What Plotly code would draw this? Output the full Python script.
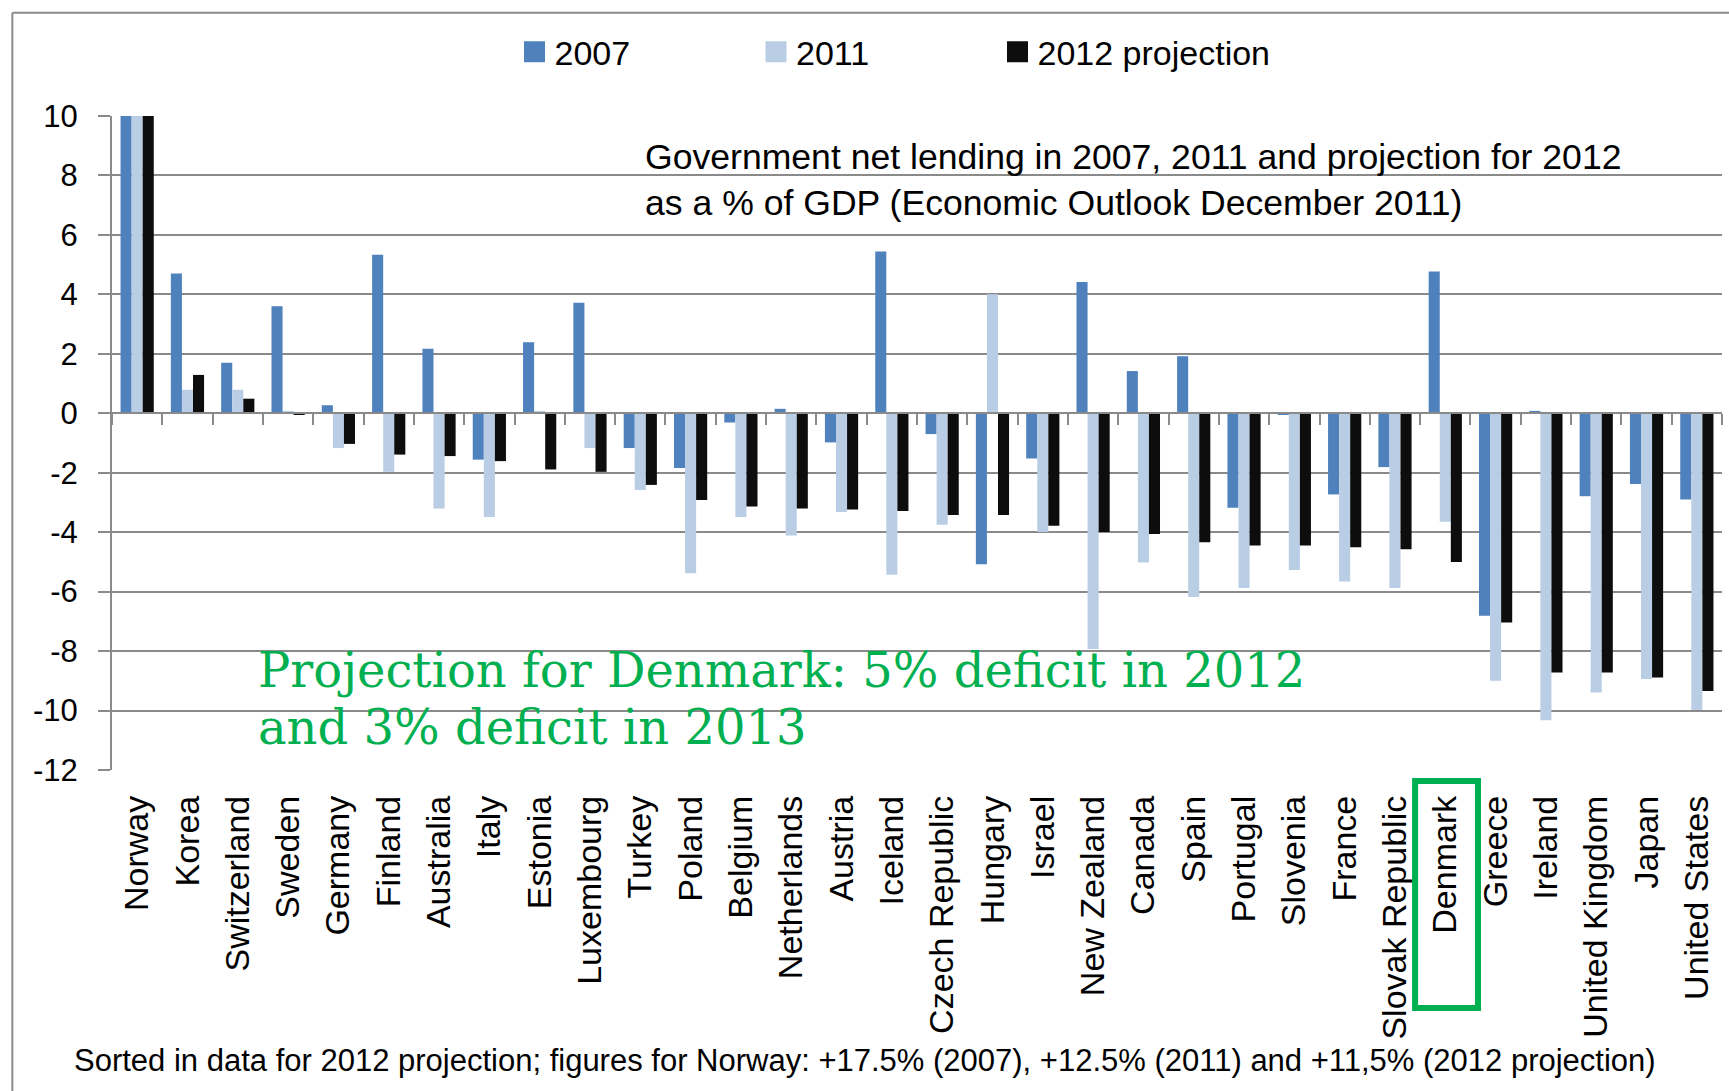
import plotly.graph_objects as go

# Countries, sorted by the 2012 projection
countries = ["Norway", "Korea", "Switzerland", "Sweden", "Germany", "Finland",
             "Australia", "Italy", "Estonia", "Luxembourg", "Turkey", "Poland",
             "Belgium", "Netherlands", "Austria", "Iceland", "Czech Republic",
             "Hungary", "Israel", "New Zealand", "Canada", "Spain", "Portugal",
             "Slovenia", "France", "Slovak Republic", "Denmark", "Greece",
             "Ireland", "United Kingdom", "Japan", "United States"]

# Government net lending, % of GDP
net_2007 = [17.5, 4.7, 1.7, 3.6, 0.27, 5.33, 2.17, -1.56, 2.39, 3.72, -1.17,
            -1.84, -0.31, 0.15, -0.98, 5.44, -0.70, -5.08, -1.52, 4.42, 1.42,
            1.92, -3.18, -0.03, -2.73, -1.81, 4.77, -6.81, 0.08, -2.79, -2.38,
            -2.90]
net_2011 = [12.5, 0.79, 0.79, 0.08, -1.17, -1.97, -3.2, -3.49, 0.08, -1.17,
            -2.58, -5.38, -3.49, -4.11, -3.32, -5.43, -3.75, 4.0, -3.99, -7.93,
            -5.02, -6.18, -5.88, -5.27, -5.66, -5.88, -3.65, -9.0, -10.33,
            -9.39, -8.94, -9.98]
net_2012 = [11.5, 1.29, 0.49, -0.05, -1.03, -1.39, -1.44, -1.61, -1.89, -1.97,
            -2.41, -2.92, -3.14, -3.2, -3.24, -3.29, -3.42, -3.42, -3.78,
            -3.99, -4.06, -4.34, -4.45, -4.45, -4.51, -4.57, -5.0, -7.04,
            -8.72, -8.72, -8.89, -9.34]

series_names = ["2007", "2011", "2012 projection"]
series_colors = ["#4F81BD", "#B9CDE5", "#0D0D0D"]

y_tickvals = [10, 8, 6, 4, 2, 0, -2, -4, -6, -8, -10, -12]
y_ticktext = ["10", "8", "6", "4", "2", "0", "-2", "-4", "-6", "-8", "-10", "-12"]

SANS = "Liberation Sans, Arial, sans-serif"
SERIF = "DejaVu Serif, Georgia, serif"
GRID = "#8A8A8A"
GREEN = "#00B050"

fig = go.Figure()
legend_ids = ["legend", "legend2", "legend3"]
for name, vals, col, lg in zip(series_names, [net_2007, net_2011, net_2012],
                               series_colors, legend_ids):
    fig.add_trace(go.Bar(x=countries, y=vals, name=name, marker_color=col,
                         marker_line_width=0, showlegend=False))
    # square legend key for the series
    fig.add_trace(go.Scatter(x=[None], y=[None], name=name, mode="markers",
                             marker=dict(symbol="square", size=24, color=col,
                                         line=dict(color=col, width=5)),
                             legend=lg, hoverinfo="skip"))

# invisible trace so the zero-line axis carries the category ticks
fig.add_trace(go.Scatter(x=countries, y=[0] * len(countries), xaxis="x2",
                         mode="none", showlegend=False, hoverinfo="skip"))

ymin, ymax = y_tickvals[-1], y_tickvals[0]

legend_style = dict(orientation="h", xanchor="left", y=1.0976,
                    yanchor="middle", font=dict(size=34, family=SANS),
                    itemsizing="trace", bgcolor="rgba(0,0,0,0)")

fig.update_layout(
    width=1729, height=1091, autosize=False,
    margin=dict(l=112, r=7, t=116, b=321),
    paper_bgcolor="white", plot_bgcolor="white",
    barmode="group", bargap=0.34, bargroupgap=0,
    font=dict(family=SANS, color="black"),
    showlegend=True,
    legend=dict(x=0.250, **legend_style),
    legend2=dict(x=0.400, **legend_style),
    legend3=dict(x=0.550, **legend_style),
    xaxis=dict(type="category", categoryorder="array", categoryarray=countries,
               range=[-0.5, len(countries) - 0.5], tickangle=-90,
               ticks="", showgrid=False, showline=False, zeroline=False,
               tickfont=dict(size=34, family=SANS, color="black"),
               ticklabelstandoff=18),
    xaxis2=dict(type="category", categoryorder="array", categoryarray=countries,
                range=[-0.5, len(countries) - 0.5], overlaying="x",
                anchor="free", position=(0 - ymin) / (ymax - ymin),
                side="bottom", showticklabels=False, showgrid=False,
                ticks="outside", tickson="boundaries", ticklen=11,
                tickwidth=2, tickcolor=GRID, showline=True, linecolor=GRID,
                linewidth=2, zeroline=False),
    yaxis=dict(range=[ymin, ymax], tickvals=y_tickvals, ticktext=y_ticktext,
               showgrid=True, gridcolor=GRID, gridwidth=2, zeroline=False,
               showline=True, linecolor=GRID, linewidth=2,
               ticks="outside", ticklen=12, tickwidth=2, tickcolor=GRID,
               tickfont=dict(size=31, family=SANS, color="black"),
               ticklabelstandoff=14),
)

fig.add_annotation(
    text="Government net lending in 2007, 2011 and projection for 2012<br>"
         "as a % of GDP (Economic Outlook December 2011)",
    xref="paper", yref="paper", x=(643 - 112) / 1610, y=0.9026,
    xanchor="left", yanchor="middle", align="left", showarrow=False,
    font=dict(size=35.6, family=SANS, color="black"))

# green note about Denmark, one annotation per line
for txt, ypos in [("Projection for Denmark: 5% deficit in 2012", 0.1527),
                  ("and 3% deficit in 2013", 0.0651)]:
    fig.add_annotation(
        text=txt, xref="paper", yref="paper", x=0.0895, y=ypos,
        xanchor="left", yanchor="middle", align="left", showarrow=False,
        font=dict(size=48, family=SERIF, color=GREEN))

fig.add_annotation(
    text="Sorted in data for 2012 projection; figures for Norway: +17.5% (2007), "
         "+12.5% (2011) and +11,5% (2012 projection)",
    xref="paper", yref="paper", x=-0.025, y=-0.444,
    xanchor="left", yanchor="middle", align="left", showarrow=False,
    font=dict(size=31, family=SANS, color="black"))

# frame around the chart
fig.add_shape(type="line", xref="paper", yref="paper", x0=-0.0619, x1=-0.0619,
              y0=1.158, y1=-0.5, line=dict(color=GRID, width=2))
fig.add_shape(type="line", xref="paper", yref="paper", x0=-0.0619, x1=1.01,
              y0=1.158, y1=1.158, line=dict(color=GRID, width=2))

# highlight box around the Denmark label
fig.add_shape(type="rect", xref="x", yref="paper",
              x0="Denmark", x0shift=-0.6, x1="Denmark", x1shift=0.65,
              y0=-0.0167, y1=-0.364, line=dict(color=GREEN, width=6),
              fillcolor="rgba(0,0,0,0)")

fig.write_html("out.html")
